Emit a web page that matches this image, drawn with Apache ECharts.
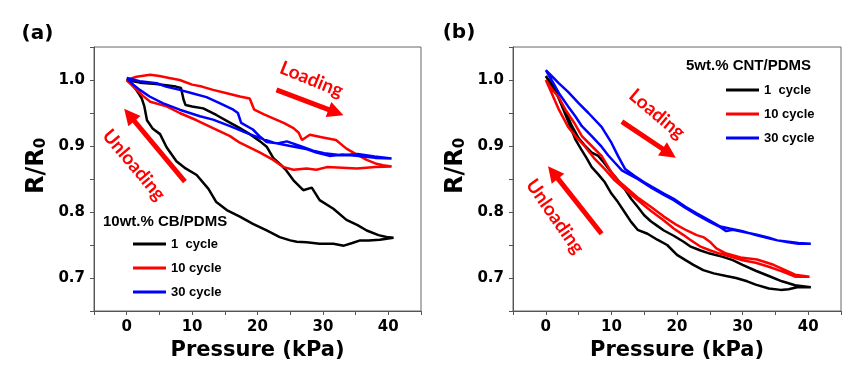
<!DOCTYPE html>
<html><head><meta charset="utf-8">
<script src="https://cdn.jsdelivr.net/npm/echarts@6/dist/echarts.min.js"></script>
<style>html,body{margin:0;padding:0;background:#fff}#c{width:850px;height:374px}</style>
</head><body><div id="c"></div>
<script>
// ---- data ----
const cycleNames = ['1  cycle', '10 cycle', '30 cycle'];
const xTickLabels = [0, 10, 20, 30, 40];
const yTickLabels = [0.7, 0.8, 0.9, 1.0];
const cbTitle = '10wt.% CB/PDMS';
const cntTitle = '5wt.% CNT/PDMS';

// panel (a) 10wt.% CB/PDMS : [pressure kPa, R/R0] loops (loading then unloading)
const cb1 = [[0,1.0],[1,0.998],[2,0.996],[3,0.995],[4.5,0.994],[6,0.992],[7.5,0.99],[8.3,0.988],[8.7,0.97],[9,0.962],[10,0.96],[11.7,0.957],[13.7,0.947],[15.5,0.937],[17.3,0.927],[18.5,0.92],[20.4,0.907],[21.4,0.899],[22.4,0.882],[23.5,0.872],[24.4,0.863],[25.5,0.848],[27,0.833],[28.3,0.837],[29.5,0.818],[31.6,0.805],[33.6,0.788],[35.3,0.78],[36.7,0.772],[38.5,0.765],[39.7,0.762],[40.8,0.761],
  [40,0.76],[38.7,0.758],[37,0.757],[35.7,0.757],[34.5,0.753],[33.2,0.749],[31.6,0.752],[29.5,0.752],[27.5,0.754],[26,0.755],[25,0.757],[23.4,0.762],[21.4,0.772],[19.3,0.782],[17.3,0.793],[15.3,0.803],[13.7,0.815],[12.5,0.835],[10.7,0.856],[9,0.866],[7.6,0.877],[6.1,0.898],[5.1,0.918],[4,0.926],[3.1,0.939],[2.7,0.96],[2.3,0.972],[1.8,0.98],[1,0.992],[0,1.0]];
const cb10 = [[0,1.0],[1.5,1.005],[3.6,1.008],[5,1.006],[6.5,1.003],[8.1,1.0],[10,0.993],[11.5,0.99],[13.2,0.985],[15.3,0.98],[17.3,0.975],[18.8,0.972],[19.5,0.955],[21,0.948],[22.4,0.942],[24,0.935],[25.5,0.927],[26.3,0.92],[26.8,0.909],[28,0.917],[30,0.913],[32,0.909],[33.6,0.896],[35,0.888],[36.7,0.879],[38.2,0.873],[39.2,0.871],[40.5,0.869],
  [38,0.868],[35.2,0.866],[33,0.867],[30.6,0.868],[29,0.864],[27.5,0.866],[25.5,0.864],[24,0.868],[22.4,0.879],[20.4,0.89],[17.3,0.905],[15.8,0.915],[13.2,0.927],[10.7,0.939],[8.1,0.95],[6.1,0.96],[3.6,0.967],[2.5,0.976],[1.5,0.985],[0,1.0]];
const cb30 = [[0,1.003],[2,0.998],[4.6,0.995],[6,0.99],[8.1,0.985],[10,0.98],[12.2,0.974],[14.2,0.965],[16.3,0.955],[17,0.95],[17.5,0.935],[19.3,0.925],[20.4,0.914],[21.4,0.906],[23,0.904],[24.5,0.907],[26.5,0.9],[28.5,0.893],[30.2,0.889],[32.8,0.886],[35.3,0.888],[37.9,0.884],[40.5,0.881],
  [38,0.882],[35.5,0.885],[33,0.887],[31,0.885],[29,0.89],[27.6,0.895],[25,0.9],[23.5,0.903],[22.5,0.905],[20.4,0.912],[18.3,0.92],[15.8,0.93],[13.2,0.94],[11.2,0.945],[8.1,0.955],[5.5,0.965],[3.5,0.975],[2,0.985],[1,0.993],[0,1.003]];

// panel (b) 5wt.% CNT/PDMS
const cnt1 = [[0,1.006],[1,0.99],[2,0.972],[3,0.952],[4,0.93],[5,0.912],[6,0.9],[7,0.89],[8,0.885],[9,0.873],[10,0.86],[11,0.848],[12,0.835],[13,0.82],[14,0.808],[15,0.795],[16,0.786],[17,0.779],[18,0.772],[19.5,0.764],[21,0.755],[22,0.748],[23.5,0.742],[25,0.737],[27,0.732],[28.5,0.727],[30,0.72],[32,0.711],[34,0.703],[36,0.695],[38,0.689],[40.4,0.686],
  [38.3,0.686],[37,0.683],[35.8,0.682],[34,0.684],[32,0.69],[30.7,0.695],[29,0.7],[27.5,0.703],[25.6,0.707],[24,0.712],[22.5,0.72],[21.3,0.727],[20,0.735],[18.5,0.75],[17,0.758],[15.5,0.767],[14,0.773],[13,0.785],[12,0.8],[11,0.815],[10,0.828],[9,0.845],[8,0.857],[7,0.868],[6.2,0.882],[5.4,0.895],[4.5,0.91],[3.5,0.935],[2.4,0.962],[1.2,0.99],[0,1.006]];
const cnt10 = [[0,1.0],[1,0.985],[1.9,0.975],[3,0.955],[4.4,0.934],[5.5,0.915],[7,0.9],[8.5,0.885],[10,0.86],[11,0.848],[12.5,0.835],[14,0.822],[16,0.808],[18,0.793],[20,0.78],[21.5,0.772],[23,0.765],[24,0.762],[25,0.755],[26,0.745],[27.5,0.737],[29.7,0.731],[32.2,0.728],[34.7,0.72],[36.5,0.712],[38,0.705],[40.2,0.702],
  [38,0.702],[36,0.71],[34,0.717],[32,0.723],[30,0.727],[28,0.733],[26.5,0.737],[25,0.742],[23.5,0.748],[22,0.758],[21,0.765],[19.5,0.775],[18,0.787],[16,0.802],[14,0.818],[12,0.835],[10.5,0.848],[9,0.865],[7.5,0.88],[6,0.899],[4.5,0.915],[3.4,0.929],[2,0.955],[0.9,0.98],[0,1.0]];
const cnt30 = [[0,1.015],[1,1.005],[2,0.995],[3.4,0.982],[5,0.965],[6.5,0.95],[8.5,0.929],[10,0.905],[11,0.885],[12.1,0.865],[13.5,0.855],[15,0.845],[16.2,0.838],[18,0.828],[19.5,0.82],[21.3,0.808],[23,0.798],[25,0.787],[26.6,0.778],[28,0.775],[30,0.771],[32,0.765],[34,0.76],[35.3,0.757],[37,0.754],[38.5,0.752],[40.4,0.752],
  [38.5,0.753],[37,0.755],[35.3,0.757],[34,0.761],[32,0.766],[30,0.77],[28.5,0.773],[27.5,0.771],[26.6,0.777],[25,0.785],[23,0.796],[21.3,0.806],[19.5,0.818],[18,0.826],[16.2,0.836],[14,0.85],[12.5,0.858],[11.6,0.863],[10.5,0.875],[9.5,0.886],[8.5,0.899],[7,0.915],[5.5,0.93],[4.5,0.945],[3.4,0.96],[2,0.98],[1,0.998],[0,1.015]];

// annotation arrows in data coordinates [from, to]
const arrowsCB = [[[22.9,0.985],[32.0,0.951]], [[8.9,0.846],[0.4,0.947]]];
const arrowsCNT = [[[11.6,0.937],[18.8,0.889]], [[8.5,0.767],[1.1,0.860]]];

// ---- chart ----
const colors = ['#000000', '#ff0000', '#0000ff'];
const boldTick = {fontFamily: 'DejaVu Sans', fontWeight: 'bold', fontSize: 15, color: '#000'};

function makeX(gi) {
  return {
    type: 'value', gridIndex: gi, min: -5, max: 45, interval: 5,
    axisLine: {show: true, onZero: false, lineStyle: {color: '#555', width: 1}},
    axisTick: {show: true, inside: false, length: 4, lineStyle: {color: '#555'}},
    splitLine: {show: false},
    axisLabel: Object.assign({margin: 9, formatter: v => xTickLabels.some(t => Math.abs(t - v) < 1e-6) ? String(Math.round(v)) : ''}, boldTick),
    name: 'Pressure (kPa)', nameLocation: 'middle', nameGap: 29,
    nameTextStyle: {fontFamily: 'DejaVu Sans', fontWeight: 'bold', fontSize: 21, color: '#000'}
  };
}
function makeY(gi) {
  return {
    type: 'value', gridIndex: gi, min: 0.65, max: 1.05, interval: 0.05,
    axisLine: {show: true, onZero: false, lineStyle: {color: '#555', width: 1}},
    axisTick: {show: true, inside: false, length: 4, lineStyle: {color: '#555'}},
    splitLine: {show: false},
    axisLabel: Object.assign({margin: 9, formatter: v => yTickLabels.some(t => Math.abs(t - v) < 1e-6) ? v.toFixed(1) : ''}, boldTick),
    name: 'R/R{s|0}', nameLocation: 'middle', nameGap: 45,
    nameTextStyle: {fontFamily: 'DejaVu Sans', fontWeight: 'bold', fontSize: 24, color: '#000', padding: [0, 0, 0, 26],
      rich: {s: {fontFamily: 'DejaVu Sans', fontWeight: 'bold', fontSize: 15, color: '#000', verticalAlign: 'bottom'}}}
  };
}
function arrowMark(arr) {
  return {
    silent: true, symbol: ['none', 'triangle'], symbolSize: 16, animation: false,
    lineStyle: {color: '#ff0000', width: 5, type: 'solid', opacity: 1},
    label: {show: false}, emphasis: {disabled: true},
    data: arr.map(a => [{coord: a[0]}, {coord: a[1]}])
  };
}
function makeSeries(gi, datasets, arrows) {
  return datasets.map((d, i) => {
    const s = {
      type: 'line', name: cycleNames[i], xAxisIndex: gi, yAxisIndex: gi, data: d,
      symbol: 'none', showSymbol: false, color: colors[i],
      lineStyle: {color: colors[i], width: 2.5}, itemStyle: {color: colors[i]},
      emphasis: {disabled: true}, z: 2 + i
    };
    if (i === 0) s.markLine = arrowMark(arrows);
    return s;
  });
}
function makeLegend(left, top) {
  return {
    orient: 'vertical', left: left, top: top, icon: 'rect', itemWidth: 33, itemHeight: 3, itemGap: 8,
    selectedMode: false, data: cycleNames,
    textStyle: {fontFamily: 'Liberation Sans', fontWeight: 'bold', fontSize: 13, color: '#000', lineHeight: 16}
  };
}
const annoFont = 'bold 19px Lato';
const option = {
  animation: false,
  backgroundColor: '#fff',
  grid: [
    {left: 94, right: 429, top: 47, bottom: 63, show: true, borderColor: '#666', borderWidth: 1, backgroundColor: 'transparent', outerBoundsMode: 'none'},
    {left: 513, right: 9, top: 47, bottom: 63, show: true, borderColor: '#666', borderWidth: 1, backgroundColor: 'transparent', outerBoundsMode: 'none'}
  ],
  xAxis: [makeX(0), makeX(1)],
  yAxis: [makeY(0), makeY(1)],
  legend: [makeLegend(128, 231), makeLegend(721, 77)],
  series: makeSeries(0, [cb1, cb10, cb30], arrowsCB).concat(makeSeries(1, [cnt1, cnt10, cnt30], arrowsCNT)),
  graphic: [
    {type: 'text', x: 37.5, y: 34, style: {text: '(a)', font: 'bold 20px "DejaVu Sans"', fill: '#000', align: 'center', verticalAlign: 'middle'}},
    {type: 'text', x: 459, y: 33, style: {text: '(b)', font: 'bold 20px "DejaVu Sans"', fill: '#000', align: 'center', verticalAlign: 'middle'}},
    {type: 'text', x: 103, y: 222, style: {text: cbTitle, font: 'bold 15px "Liberation Sans"', fill: '#000', align: 'left', verticalAlign: 'middle'}},
    {type: 'text', x: 686, y: 66, style: {text: cntTitle, font: 'bold 15px "Liberation Sans"', fill: '#000', align: 'left', verticalAlign: 'middle'}},
    {type: 'text', x: 311.5, y: 79.5, rotation: -22 * Math.PI / 180, style: {text: 'Loading', font: annoFont, fill: '#ff0000', align: 'center', verticalAlign: 'middle'}},
    {type: 'text', x: 134, y: 165, rotation: -50 * Math.PI / 180, style: {text: 'Unloading', font: annoFont, fill: '#ff0000', align: 'center', verticalAlign: 'middle'}},
    {type: 'text', x: 657, y: 114, rotation: -40 * Math.PI / 180, style: {text: 'Loading', font: annoFont, fill: '#ff0000', align: 'center', verticalAlign: 'middle'}},
    {type: 'text', x: 555, y: 216.5, rotation: -55 * Math.PI / 180, style: {text: 'Unloading', font: annoFont, fill: '#ff0000', align: 'center', verticalAlign: 'middle'}}
  ]
};
const chart = echarts.init(document.getElementById('c'), null, {renderer: 'canvas'});
chart.setOption(option);
</script>
</body></html>
